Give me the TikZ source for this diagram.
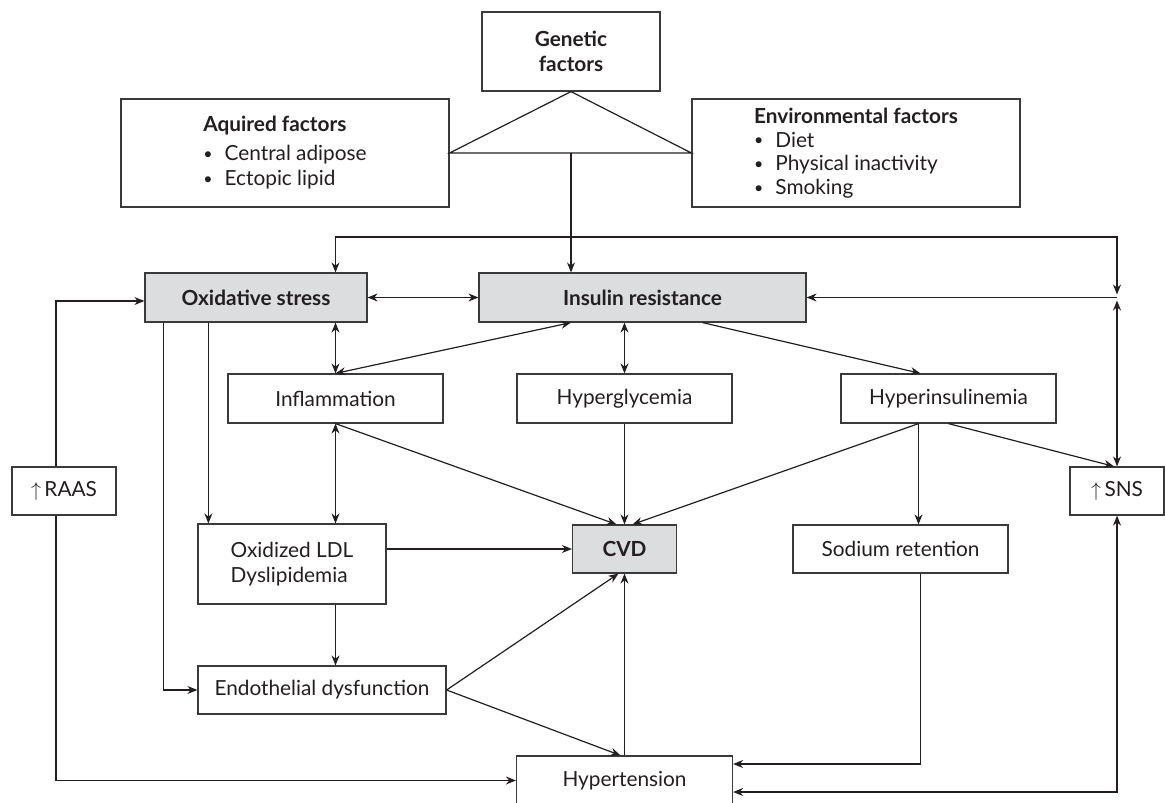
\documentclass[tikz,border=0pt]{standalone}
\usepackage{fontspec}
\setmainfont{Lato}
\usepackage{xcolor}
\definecolor{ink}{HTML}{231F20}
\definecolor{frame}{HTML}{3A3A3A}
\definecolor{shade}{HTML}{DCDDDF}
\usepackage{tikz}
\usetikzlibrary{arrows.meta}
\newcommand{\bul}{\raisebox{0.1ex}{\footnotesize\textbullet}\hspace{6pt}}

\begin{document}
\begin{tikzpicture}[
  x=0.5pt,y=-0.5pt,
  box/.style={draw=frame,line width=0.6pt,fill=white,align=center,inner sep=0pt,minimum height=24.5pt,font=\fontsize{10.4}{12.5}\selectfont,text=ink},
  keybox/.style={box,fill=shade,font=\fontsize{10.4}{12.5}\selectfont\bfseries},
  arrow/.style={-{Stealth[length=5pt,width=4pt]},draw=ink,line width=0.6pt},
  dbl/.style={{Stealth[length=5pt,width=4pt]}-{Stealth[length=5pt,width=4pt]},draw=ink,line width=0.6pt}
]
\useasboundingbox (0,0) rectangle (1165,802);

% top: factors
\node[box,minimum width=89pt,minimum height=39.5pt,font=\fontsize{10.4}{12.5}\selectfont\bfseries] (genetic) at (571,51.5) {Genetic\\factors};
\node[box,minimum width=164pt,minimum height=54pt,align=left] (acquired) at (285,153)
  {\textbf{Aquired factors}\\[2pt]\bul Central adipose\\\bul Ectopic lipid};
\node[box,minimum width=164pt,minimum height=54pt,align=left,font=\fontsize{10.4}{11.8}\selectfont] (environ) at (856,153)
  {\textbf{Environmental factors}\\\bul Diet\\\bul Physical inactivity\\\bul Smoking};

% main row
\node[keybox,minimum width=111pt] (oxstress) at (256,297.5) {Oxidative stress};
\node[keybox,minimum width=163.5pt] (insres) at (642.5,297.5) {Insulin resistance};
\node[box,minimum width=107.5pt] (inflam) at (335.5,398.5) {Inflammation};
\node[box,minimum width=107.5pt] (hypergly) at (624.5,398.5) {Hyperglycemia};
\node[box,minimum width=107.5pt] (hyperins) at (948.5,398.5) {Hyperinsulinemia};
\node[box,minimum width=52pt,minimum height=24pt] (raas) at (64,491) {$\uparrow$\,RAAS};
\node[box,minimum width=47pt,minimum height=24pt] (sns) at (1117,491) {$\uparrow$\,SNS};
\node[box,minimum width=94pt,minimum height=40pt,align=left] (oxldl) at (292,564) {Oxidized LDL\\Dyslipidemia};
\node[keybox,minimum width=52pt,minimum height=24pt] (cvd) at (624.5,549) {CVD};
\node[box,minimum width=107.5pt,minimum height=24pt] (sodium) at (900.5,549) {Sodium retention};
\node[box,minimum width=124pt,minimum height=24pt] (endo) at (322,690) {Endothelial dysfunction};
\node[box,minimum width=108pt] (hypert) at (624.5,780.5) {Hypertension};

\coordinate (jn) at (sns.north |- insres.east);
\coordinate (top) at (0,237);

% connectors
\draw[draw=ink,line width=0.6pt] (genetic.south) -- (acquired.east) -- (environ.west) -- cycle;
\draw[arrow] (genetic.south |- acquired.east) -- (genetic.south |- insres.north);
\draw[dbl,shorten >=1.5pt] (inflam.north |- oxstress.north) -- (inflam.north |- top) -- (jn |- top) -- (jn);
\draw[arrow] (jn) -- (insres.east);
\draw[dbl,shorten <=1.5pt] (jn) -- (sns.north);
\draw[dbl] (oxstress) -- (insres);
\draw[dbl] (inflam.north |- oxstress.south) -- (inflam.north);
\draw[dbl] (inflam.north) -- (genetic.south |- insres.south);
\draw[dbl] (hypergly.north |- insres.south) -- (hypergly.north);
\draw[arrow] ([xshift=30pt]insres.south) -- ([xshift=-14pt]hyperins.north);
\draw[arrow] ([xshift=32pt]oxstress.south west) -- ([xshift=32pt]oxstress.south west |- oxldl.north);
\draw[arrow] ([xshift=9.5pt]oxstress.south west) |- (endo.west);
\draw[dbl] (inflam.south) -- (inflam.south |- oxldl.north);
\draw[arrow] (inflam.south) -- ([xshift=-4pt]cvd.north);
\draw[arrow] (hypergly.south) -- (cvd.north);
\draw[arrow] ([xshift=-15pt]hyperins.south) -- ([xshift=4pt]cvd.north);
\draw[arrow] ([xshift=-15pt]hyperins.south) -- ([xshift=-15pt]hyperins.south |- sodium.north);
\draw[arrow] (hyperins.south) -- ([xshift=-1.5pt]sns.north);
\draw[arrow] (oxldl.east |- cvd.west) -- (cvd.west);
\draw[arrow] (inflam.south |- oxldl.south) -- (inflam.south |- endo.north);
\draw[arrow] (endo.east) -- ([xshift=-3pt]cvd.south);
\draw[arrow] (endo.east) -- ([xshift=-2pt]hypert.north);
\draw[arrow] (hypert.north) -- (cvd.south);
\draw[arrow] ([xshift=10pt]sodium.south) |- ([yshift=8.25pt]hypert.east);
\draw[dbl] (sns.south) |- ([yshift=-5.75pt]hypert.east);
\draw[arrow] ([xshift=-4pt]raas.north) |- ([yshift=-1.75pt]oxstress.west);
\draw[arrow] ([xshift=-4pt]raas.south) |- (hypert.west);
\end{tikzpicture}
\end{document}
